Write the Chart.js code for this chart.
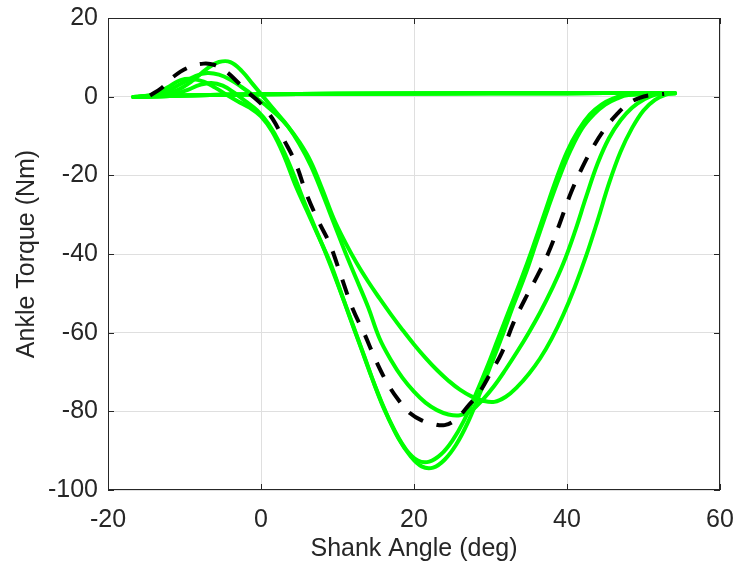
<!DOCTYPE html>
<html>
<head>
<meta charset="utf-8">
<title>Ankle torque vs shank angle</title>
<script src="https://cdn.jsdelivr.net/npm/chart.js@4.4.0/dist/chart.umd.min.js"></script>
<style>
  html, body { margin: 0; padding: 0; background: #fff; }
</style>
</head>
<body>
<canvas id="chart" width="738" height="567"></canvas>
<script>
// axis ticks
const xTicks = [-20, 0, 20, 40, 60];
const yTicks = [-100, -80, -60, -40, -20, 0, 20];

// mean (reference) loop, stance only
const refAngle  = [-14.5, -13, -11.5, -9.5, -7.5, -6, -4.5, -3, -1.5, 0, 1.5, 3, 4.5, 6, 7.5, 9, 10.5, 12, 13.5, 15, 16.5, 18, 19.5, 21, 22.5, 24, 25.5, 27, 28.5, 30, 31.5, 33, 34.5, 36, 37.5, 39, 40.5, 42, 43.5, 45, 46.5, 48, 49.5, 51, 52.7];
const refTorque = [0.3, 2.2, 5.0, 7.4, 8.4, 8.0, 6.3, 3.6, 0.8, -1.8, -5.6, -11, -16.8, -25, -31.6, -37.5, -45.8, -54, -60.2, -67, -72.8, -77.2, -80.5, -82.3, -83.2, -83.5, -82, -78.8, -75.3, -70.3, -65, -57.5, -51.5, -46, -40, -32.5, -24.5, -18, -12.5, -8, -4.5, -1.8, -0.3, 0.4, 0.7];

// individual strides (stance part)
const trial1Angle  = [-16, -14, -12, -10.5, -9, -7.5, -6, -4.5, -3, -1.5, 0, 1.5, 3, 4.5, 6, 7.5, 9, 10.5, 12, 13.5, 15, 16.5, 18, 19.5, 21, 22.5, 24, 25.5, 27, 28.5, 30, 31.5, 33, 34.5, 36, 37.5, 39, 40.5, 42, 43.5, 45, 46.5, 48];
const trial1Torque = [0, 0.6, 2.6, 4.2, 4.5, 3.8, 2.3, 0.5, -1.2, -2.8, -5, -9, -15, -22.5, -29, -35.5, -42, -50, -58, -66, -74, -81, -87, -91.3, -94, -94.3, -92.3, -88.5, -83, -76, -68.5, -61, -53, -45.5, -37, -28.5, -20.5, -13.5, -8, -4.5, -2, -0.5, 0.4];

const trial2Angle  = [-15.5, -13, -11, -9.5, -8, -6.5, -5, -3.5, -2, -0.5, 1, 2.5, 4, 5.5, 7, 8.5, 10, 11.5, 13, 14.5, 16, 17.5, 19, 20.5, 22, 23.5, 25, 26.5, 28, 29.5, 31, 32.5, 34, 35.5, 37, 38.5, 40, 41.5, 43, 44.5, 46, 47.5];
const trial2Torque = [0, 0.2, 0.8, 1.8, 3.0, 3.5, 2.8, 1.0, -1.2, -3.5, -7, -12, -18.5, -26, -33, -40, -47.5, -55.5, -63.5, -71.5, -79, -85, -89.8, -92.5, -92.8, -91, -87.5, -82.5, -76, -69, -61.5, -54, -46.5, -38.5, -30, -21.5, -14, -8.5, -4.5, -2, -0.5, 0.4];

const trial3Angle  = [-15, -13, -11, -9, -7, -5.5, -4, -2.5, -1, 0.5, 2, 3.5, 5, 6.5, 8, 9.5, 11, 12.5, 14, 15.5, 17, 18.5, 20, 21.5, 23, 24.5, 26, 27.5, 29, 30.5, 32, 33.5, 35, 36.5, 38, 39.5, 41, 42.5, 44, 45.5, 47, 48.5, 50, 51.5];
const trial3Torque = [0, 0.4, 1.6, 4.0, 7.2, 8.8, 8.8, 6.5, 3, -0.5, -4, -7.5, -12, -17.5, -24.5, -32, -39.5, -46.5, -53.5, -61.5, -67, -71.5, -75, -77.8, -79.7, -80.8, -81, -79.8, -77, -73.5, -69.3, -64.8, -60, -54.8, -49, -42.5, -34.5, -25.5, -17, -10.5, -6, -2.8, -0.8, 0.5];

const trial4Angle  = [-16.5, -14.5, -12.5, -10.5, -8.5, -7, -5.5, -4, -2.5, -1, 0.5, 2, 3.5, 5, 6.5, 8, 9.5, 11, 12.5, 14, 15.5, 17, 18.5, 20, 21.5, 23, 24.5, 26, 27.5, 29, 30.5, 32, 33.5, 35, 36.5, 38, 39.5, 41, 42.5, 44, 45.5, 47, 48.5, 50, 51.5, 53];
const trial4Torque = [0, 0.3, 1.3, 3.2, 5.3, 6, 5.6, 4.3, 2.4, 0.3, -2, -4.5, -7.5, -11.5, -16.5, -23.5, -31, -37, -42.3, -47, -51.3, -55.4, -59.3, -63, -66.4, -69.5, -72.2, -74.5, -76.2, -77.3, -77.6, -76.3, -73.8, -70.5, -66.5, -61.5, -55.5, -48.5, -40.5, -31.5, -22, -14, -8, -3.5, -0.8, 0.6];

// swing phase: torque stays near zero while the shank swings back
const swingAngle  = [54, 40, 20, 0, -10, -16.7];
const swingTorque = [0.9, 0.9, 0.8, 0.6, 0.3, -0.1];

const axisColor = "#262626";
const gridColor = "#dfdfdf";
const fontFamily = "'Liberation Sans', Arial, Helvetica, sans-serif";

const toPoints = (xs, ys) => xs.map((v, i) => ({ x: v, y: ys[i] }));
const stride = (xs, ys) => ({
  data: toPoints(xs.concat(swingAngle), ys.concat(swingTorque)),
  borderColor: "#00ff00",
  borderWidth: 4,
  tension: 0.4,
  borderCapStyle: "round",
  borderJoinStyle: "round",
});

// box around the axes with inward tick marks on all four sides
const boxTicks = {
  id: "boxTicks",
  beforeDatasetsDraw(chart) {
    const { ctx, chartArea: a, scales: { x, y } } = chart;
    const len = 6;
    ctx.save();
    ctx.strokeStyle = axisColor;
    ctx.lineWidth = 1;
    ctx.beginPath();
    xTicks.forEach(v => {
      const px = Math.round(x.getPixelForValue(v)) + 0.5;
      ctx.moveTo(px, a.bottom); ctx.lineTo(px, a.bottom - len);
      ctx.moveTo(px, a.top); ctx.lineTo(px, a.top + len);
    });
    yTicks.forEach(v => {
      const py = Math.round(y.getPixelForValue(v)) + 0.5;
      ctx.moveTo(a.left, py); ctx.lineTo(a.left + len, py);
      ctx.moveTo(a.right, py); ctx.lineTo(a.right - len, py);
    });
    ctx.stroke();
    ctx.strokeRect(Math.round(a.left) + 0.5, Math.round(a.top) + 0.5,
      Math.round(a.right - a.left) - 1, Math.round(a.bottom - a.top) - 1);
    ctx.restore();
  }
};

new Chart(document.getElementById("chart"), {
  type: "scatter",
  data: {
    datasets: [
      {
        data: toPoints(refAngle, refTorque),
        borderColor: "#000000",
        borderWidth: 4,
        borderDash: [16, 14],
        borderCapStyle: "butt",
        tension: 0.4,
      },
      stride(trial1Angle, trial1Torque),
      stride(trial2Angle, trial2Torque),
      stride(trial3Angle, trial3Torque),
      stride(trial4Angle, trial4Torque),
    ].map(d => Object.assign({ showLine: true, pointRadius: 0, pointHoverRadius: 0, fill: false }, d)),
  },
  options: {
    responsive: false,
    animation: false,
    layout: { padding: { top: 18, right: 18, left: 0, bottom: 0 } },
    plugins: { legend: { display: false }, tooltip: { enabled: false } },
    scales: {
      x: {
        type: "linear",
        min: -20, max: 60,
        afterBuildTicks: s => { s.ticks = xTicks.map(v => ({ value: v })); },
        afterFit: s => { s.height = 77; s.paddingLeft = 0; s.paddingRight = 0; },
        grid: { color: gridColor, drawTicks: false },
        border: { display: false },
        ticks: { color: axisColor, padding: 15, maxRotation: 0, font: { family: fontFamily, size: 25 } },
        title: {
          display: true, text: "Shank Angle (deg)", color: axisColor,
          padding: { top: 0, bottom: 3 },
          font: { family: fontFamily, size: 25 },
        },
      },
      y: {
        type: "linear",
        min: -100, max: 20,
        afterBuildTicks: s => { s.ticks = yTicks.map(v => ({ value: v })); },
        afterFit: s => { s.width = 108; s.paddingTop = 0; s.paddingBottom = 0; },
        grid: { color: gridColor, drawTicks: false },
        border: { display: false },
        ticks: { color: axisColor, padding: 10, font: { family: fontFamily, size: 25 } },
        title: {
          display: true, text: "Ankle Torque (Nm)", color: axisColor,
          padding: { top: 12, bottom: 0 },
          font: { family: fontFamily, size: 25 },
        },
      },
    },
  },
  plugins: [boxTicks],
});
</script>
</body>
</html>
